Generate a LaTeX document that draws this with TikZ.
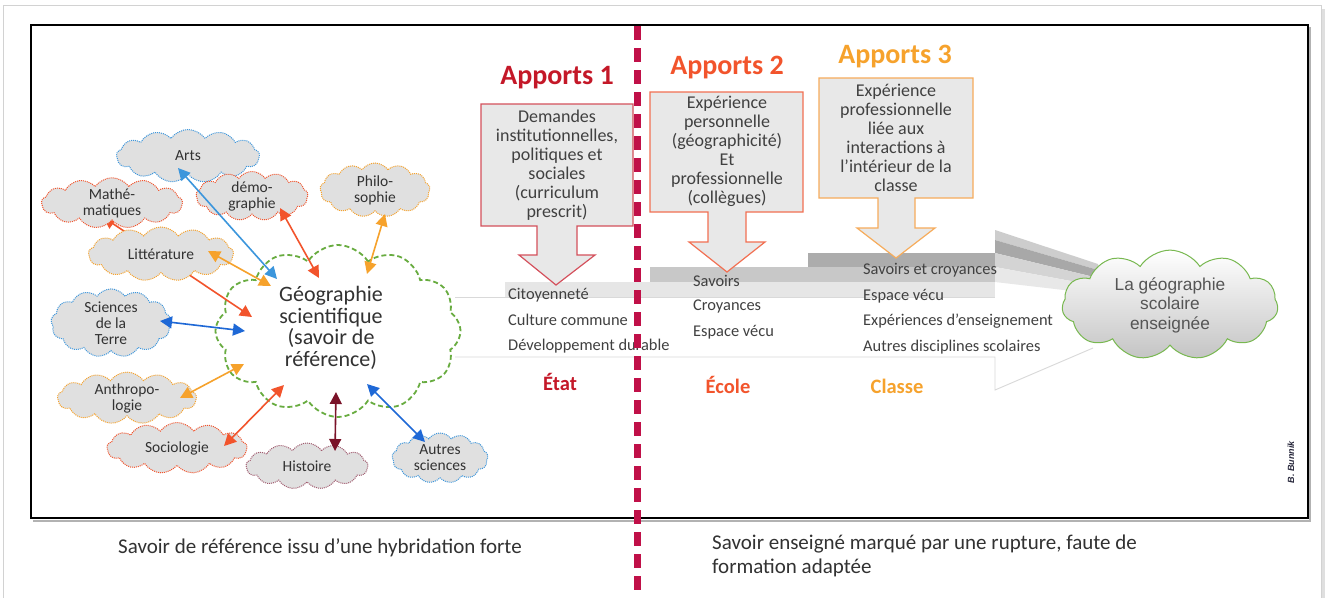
\documentclass[tikz,border=0pt]{standalone}
\usepackage{fontspec}
\setmainfont{Carlito}
\newfontfamily\arialf{Liberation Sans}
\usetikzlibrary{shapes.symbols,arrows.meta,shadings}
\definecolor{crim}{RGB}{192,16,72}
\definecolor{aone}{RGB}{196,24,40}
\definecolor{atwo}{RGB}{242,84,44}
\definecolor{athree}{RGB}{246,162,44}
\definecolor{bone}{RGB}{212,80,92}
\definecolor{btwo}{RGB}{242,112,82}
\definecolor{bthree}{RGB}{246,172,92}
\definecolor{boxfill}{RGB}{232,232,232}
\definecolor{txt}{RGB}{64,64,64}
\definecolor{dtxt}{RGB}{50,50,50}
\definecolor{ctxt}{RGB}{85,85,85}
\definecolor{sigc}{RGB}{40,40,60}
\definecolor{cloudfill}{RGB}{224,224,224}
\definecolor{ablue}{RGB}{60,150,220}
\definecolor{dblue}{RGB}{30,104,214}
\definecolor{ared}{RGB}{242,84,44}
\definecolor{aorange}{RGB}{246,162,44}
\definecolor{amaroon}{RGB}{122,18,40}
\definecolor{hmaroon}{RGB}{160,90,110}
\definecolor{ggreen}{RGB}{104,172,64}
\definecolor{lgreen}{RGB}{120,184,80}
\definecolor{band1}{RGB}{230,230,230}
\definecolor{band2}{RGB}{200,200,200}
\definecolor{band3}{RGB}{172,172,172}
\definecolor{diag1}{RGB}{205,205,205}
\definecolor{diag2}{RGB}{168,168,168}
\definecolor{diag3}{RGB}{212,212,212}
\definecolor{diag4}{RGB}{232,232,232}
\definecolor{cbot}{RGB}{196,196,196}
\tikzset{
  smallcloud/.style={cloud, cloud puffs=13, cloud puff arc=110, cloud ignores aspect,
    fill=cloudfill, draw=#1, densely dotted, line width=1pt, inner sep=0pt,
    align=center, font=\fontsize{15.5}{16}\selectfont, text=dtxt},
  dbl/.style={{Triangle[length=12pt,width=12pt]}-{Triangle[length=12pt,width=12pt]}, line width=1.6pt, draw=#1},
  calloutbox/.style={fill=boxfill, draw=#1, line width=1.2pt},
  boxtext/.style={align=center, font=\fontsize{18}{19}\selectfont, text=txt},
  title/.style={font=\fontsize{28}{30}\selectfont\bfseries, text=#1},
  place/.style={font=\fontsize{20.5}{22}\selectfont\bfseries, text=#1},
  item/.style={anchor=west, font=\fontsize{16.4}{17}\selectfont, text=txt, inner sep=0pt},
  caption/.style={anchor=west, align=left, font=\fontsize{21}{24}\selectfont, text=dtxt, inner sep=0pt},
}
\begin{document}
\begin{tikzpicture}[x=1pt,y=-1pt]
\useasboundingbox (0,0) rectangle (1327,597);
% outer page frame
\fill[gray!25] (7,9) rectangle (1325,600);
\fill[white,draw=gray!35,line width=0.8pt] (3,5) rectangle (1321,600);
% inner black frame
\draw[gray!60,line width=1.2pt] (33,521) -- (1310,521) -- (1310,27);
\draw[black,line width=1.1pt] (31,25) rectangle (1308,518);

% ---- bands (stepped shaft) ----
\draw[gray!30,line width=0.9pt] (455,297) -- (995,297);
\draw[gray!30,line width=0.9pt] (455,357) -- (995,357) -- (995,390) -- (1093,348);
\fill[band1] (505,282) rectangle (995,297);
\fill[band2] (650,267) rectangle (995,282);
\fill[band3] (808,253) rectangle (995,267);
\fill[diag1] (995,230) -- (1098,264) -- (1098,270) -- (995,240) -- cycle;
\fill[diag2] (995,240) -- (1098,270) -- (1098,278) -- (995,253) -- cycle;
\fill[diag3] (995,253) -- (1098,278) -- (1098,286) -- (995,267) -- cycle;
\fill[diag4] (995,267) -- (1098,286) -- (1098,294) -- (995,282) -- cycle;

% ---- right cloud ----
\node[cloud, cloud puffs=11, cloud puff arc=115, cloud ignores aspect, minimum width=216pt, minimum height=100pt,
  draw=lgreen, line width=1pt, top color=white, bottom color=cbot,
  align=center, font=\arialf\fontsize{17.3}{19.5}\selectfont, text=ctxt]
  (scol) at (1170,305) {La géographie\\scolaire\\enseignée};

% ---- callout boxes ----
\path[calloutbox=bone] (481,104) -- (633,104) -- (633,226) -- (577,226) -- (577,255) -- (595,255)
  -- (556,285) -- (519,255) -- (537,255) -- (537,226) -- (481,226) -- cycle;
\path[calloutbox=btwo] (650,92) -- (803,92) -- (803,212) -- (746,212) -- (746,242) -- (765,242)
  -- (727,272) -- (689,242) -- (708,242) -- (708,212) -- (650,212) -- cycle;
\path[calloutbox=bthree] (819,78) -- (973,78) -- (973,198) -- (915,198) -- (915,228) -- (935,228)
  -- (896,258) -- (857,228) -- (878,228) -- (878,198) -- (819,198) -- cycle;
\node[boxtext] (b1) at (557,165) {Demandes\\institutionnelles,\\politiques et\\sociales\\(curriculum\\prescrit)};
\node[boxtext] (b2) at (727,151) {Expérience\\personnelle\\(géographicité)\\Et\\professionnelle\\(collègues)};
\node[boxtext] (b3) at (896,138) {Expérience\\professionnelle\\liée aux\\interactions à\\l’intérieur de la\\classe};
\node[title=aone] (t1) at (557,78) {Apports 1};
\node[title=atwo] (t2) at (727,68) {Apports 2};
\node[title=athree] (t3) at (895,57) {Apports 3};

% ---- lists ----
\node[item] (l1a) at (508,295) {Citoyenneté};
\node[item] (l1b) at (508,320) {Culture commune};
\node[item] (l1c) at (508,346) {Développement durable};
\node[item] (l2a) at (693,281) {Savoirs};
\node[item] (l2b) at (693,306) {Croyances};
\node[item] (l2c) at (693,332) {Espace vécu};
\node[item] (l3a) at (863,270) {Savoirs et croyances};
\node[item] (l3b) at (863,296) {Espace vécu};
\node[item] (l3c) at (863,321) {Expériences d’enseignement};
\node[item] (l3d) at (863,347) {Autres disciplines scolaires};
\node[place=aone] (p1) at (560,382) {État};
\node[place=atwo] (p2) at (728,385) {École};
\node[place=athree] (p3) at (897,386) {Classe};

% ---- geography cloud ----
\node[cloud, cloud puffs=12, cloud puff arc=115, cloud ignores aspect, minimum width=245pt, minimum height=172pt,
  draw=ggreen, fill=white, dash pattern=on 5pt off 3pt, line width=1.8pt] (geo) at (338,331) {};
\node[align=center, font=\fontsize{22}{21.7}\selectfont, text=dtxt] (geot) at (331,328)
  {Géographie\\scientifique\\(savoir de\\référence)};

% named endpoints
\coordinate (eMa) at (103,217); \coordinate (gMa) at (252,317);
\coordinate (eAr) at (178,168); \coordinate (gAr) at (277,279);
\coordinate (eLi) at (208,251); \coordinate (gLi) at (271,286);
\coordinate (eDe) at (280,208); \coordinate (gDe) at (319,278);
\coordinate (ePh) at (385,214); \coordinate (gPh) at (367,274);
\coordinate (eSc) at (160,321); \coordinate (gSc) at (245,331);
\coordinate (eAn) at (180,398); \coordinate (gAn) at (244,364);
\coordinate (eSo) at (224,446); \coordinate (gSo) at (284,385);
\coordinate (eHi) at (335,451); \coordinate (gHi) at (336,392);
\coordinate (eAu) at (425,442); \coordinate (gAu) at (367,384);

\draw[dbl=ared] (eMa) -- (gMa);

% ---- small clouds ----
\node[smallcloud=ablue, minimum width=143pt, minimum height=53pt] (arts) at (188,156) {Arts};
\node[smallcloud=ared, minimum width=141pt, minimum height=49pt] (maths) at (112,203) {Mathé-\\matiques};
\node[smallcloud=ared, minimum width=112pt, minimum height=49pt] (demo) at (252,196) {démo-\\graphie};
\node[smallcloud=aorange, minimum width=110pt, minimum height=54pt] (philo) at (375,190) {Philo-\\sophie};
\node[smallcloud=aorange, minimum width=145pt, minimum height=54pt] (litt) at (161,254) {Littérature};
\node[smallcloud=ablue, minimum width=120pt, minimum height=56pt] (scit) at (111,323) {Sciences\\de la\\Terre};
\node[smallcloud=aorange, minimum width=139pt, minimum height=51pt] (anthro) at (127,398) {Anthropo-\\logie};
\node[smallcloud=ared, minimum width=140pt, minimum height=51pt] (socio) at (177,448) {Sociologie};
\node[smallcloud=hmaroon, minimum width=122pt, minimum height=46pt] (hist) at (307,466) {Histoire};
\node[smallcloud=ablue, minimum width=96pt, minimum height=50pt] (autres) at (440,458) {Autres\\sciences};

% ---- arrows ----
\draw[dbl=ablue] (eAr) -- (gAr);
\draw[dbl=aorange] (eLi) -- (gLi);
\draw[dbl=ared] (eDe) -- (gDe);
\draw[dbl=aorange] (ePh) -- (gPh);
\draw[dbl=dblue] (eSc) -- (gSc);
\draw[dbl=aorange] (eAn) -- (gAn);
\draw[dbl=ared] (eSo) -- (gSo);
\draw[dbl=amaroon] (eHi) -- (gHi);
\draw[dbl=dblue] (eAu) -- (gAu);

% ---- divider ----
\coordinate (dTop) at (637,26);
\coordinate (dBot) at (637,597);
\draw[crim, line width=7pt, dash pattern=on 14pt off 8pt] (dTop) -- (dBot);

% ---- signature & captions ----
\node[rotate=90, font=\arialf\bfseries\itshape\fontsize{9}{10}\selectfont, text=sigc] (sig) at (1291,462) {B. Bunnik};
\node[caption] (c1) at (118,548) {Savoir de référence issu d’une hybridation forte};
\node[caption, anchor=north west] (c2) at (712,535) {Savoir enseigné marqué par une rupture, faute de\\formation adaptée};
\end{tikzpicture}
\end{document}
